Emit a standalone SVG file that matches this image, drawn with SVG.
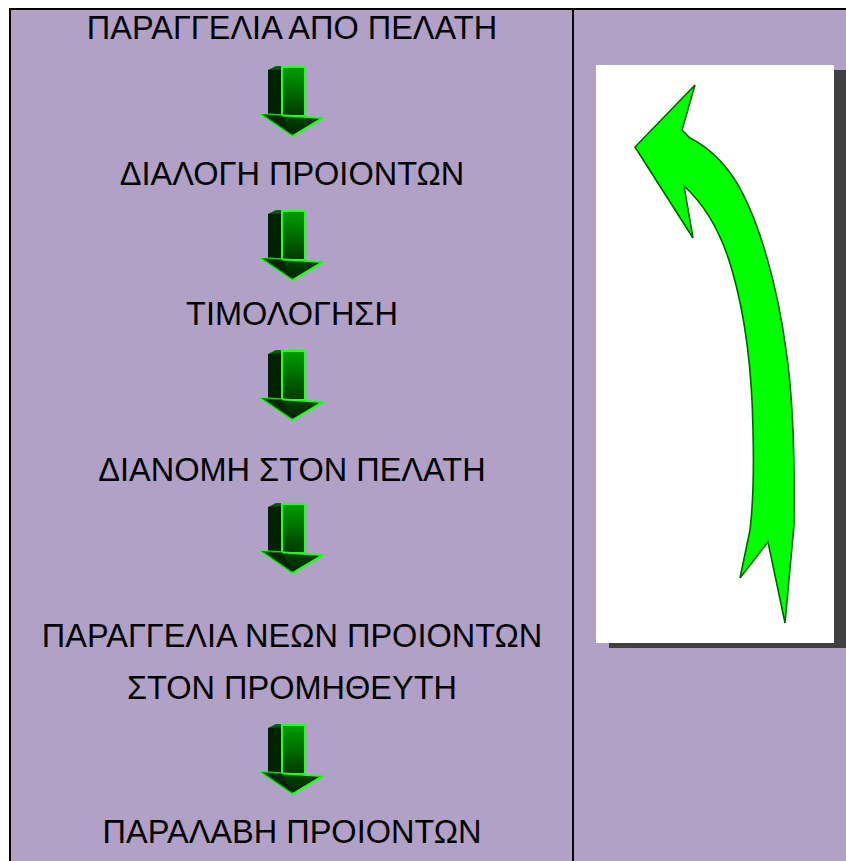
<svg xmlns="http://www.w3.org/2000/svg" xmlns:xlink="http://www.w3.org/1999/xlink" width="846" height="861" viewBox="0 0 846 861">
<style>
.lbl{font-family:"Liberation Sans",Arial,sans-serif;font-size:32.5px;fill:#000;text-anchor:middle}
.rule{stroke:#000;stroke-width:2;fill:none}
</style>
<defs>
<linearGradient id="gFront" x1="0" y1="0" x2="0" y2="1">
<stop offset="0" stop-color="#00a000"/>
<stop offset="1" stop-color="#003800"/>
</linearGradient>
<linearGradient id="gHead" x1="0" y1="0" x2="0" y2="1">
<stop offset="0" stop-color="#004a00"/>
<stop offset="1" stop-color="#001e00"/>
</linearGradient>
<g id="dnArrow">
<polygon points="0,4 14,0 14,50 0,50" fill="#002200"/>
<polygon points="0,4 8,0 36,0 37,3 14,3" fill="#006000"/>
<rect x="14" y="1" width="23" height="49" fill="url(#gFront)" stroke="#22ff22" stroke-width="2"/>
<polygon points="-7,48 55,52 25,70" fill="url(#gHead)" stroke="#22ff22" stroke-width="2.2" stroke-linejoin="round"/>
<polygon points="-7,48 14,49 25,70" fill="#001a00" opacity="0.6"/>
</g>
</defs>
<rect x="0" y="0" width="846" height="861" fill="#ffffff"/>
<rect x="10" y="9" width="836" height="852" fill="#b1a1c7"/>
<g id="table-lines">
<line class="rule" x1="9" y1="9" x2="846" y2="9"/>
<line class="rule" x1="10" y1="8" x2="10" y2="861"/>
<line class="rule" x1="573" y1="9" x2="573" y2="861"/>
</g>
<g id="n1"><text class="lbl" x="292" y="39">ΠΑΡΑΓΓΕΛΙΑ ΑΠΟ ΠΕΛΑΤΗ</text></g>
<g id="n2"><text class="lbl" x="292" y="185">ΔΙΑΛΟΓΗ ΠΡΟΙΟΝΤΩΝ</text></g>
<g id="n3"><text class="lbl" x="292" y="325">ΤΙΜΟΛΟΓΗΣΗ</text></g>
<g id="n4"><text class="lbl" x="292" y="481">ΔΙΑΝΟΜΗ ΣΤΟΝ ΠΕΛΑΤΗ</text></g>
<g id="n5"><text class="lbl" x="292" y="647">ΠΑΡΑΓΓΕΛΙΑ ΝΕΩΝ ΠΡΟΙΟΝΤΩΝ</text><text class="lbl" x="292" y="699">ΣΤΟΝ ΠΡΟΜΗΘΕΥΤΗ</text></g>
<g id="n6"><text class="lbl" x="292" y="843">ΠΑΡΑΛΑΒΗ ΠΡΟΙΟΝΤΩΝ</text></g>
<g id="loop-panel">
<rect x="609" y="70" width="238" height="578" fill="#404040"/>
<rect x="596" y="65" width="238" height="578" fill="#ffffff"/>
</g>
<g id="connectors">
<use href="#dnArrow" xlink:href="#dnArrow" x="268" y="66"/>
<use href="#dnArrow" xlink:href="#dnArrow" x="268" y="210"/>
<use href="#dnArrow" xlink:href="#dnArrow" x="268" y="350"/>
<use href="#dnArrow" xlink:href="#dnArrow" x="268" y="503"/>
<use href="#dnArrow" xlink:href="#dnArrow" x="268" y="724"/>
<path id="loop-arrow" d="M785,623 L794,525 C795,450 792,390 786,350 C778,290 760,220 735,180 C722,160 706,146 690,138 L682,130 L695,85 L635,147 L693,238 L684,186 C705,205 722,235 732,270 C745,315 752,370 753,430 C754,470 753,505 750,530 L740,578 L768,542 Z" fill="#00ff00" stroke="#006400" stroke-width="1.6" stroke-linejoin="miter"/>
</g>
</svg>
